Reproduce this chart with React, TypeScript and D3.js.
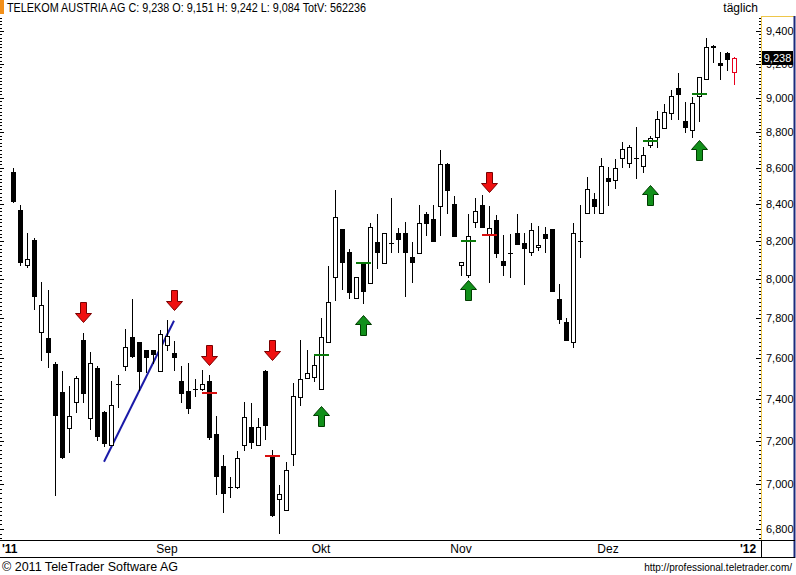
// @ts-nocheck
import React from 'react'
import * as d3 from 'd3'

// daily candles, Aug - Dec 2011 (EUR)
const opens = [
  8.576, 8.367, 8.073, 8.205, 7.73, 7.699, 7.57, 7.433, 7.263, 7.387,
  7.689, 7.309, 7.551, 7.337, 7.181, 7.472, 7.562, 7.704, 7.679, 7.639,
  7.639, 7.537, 7.664, 7.626, 7.487, 7.438, 7.448, 7.449, 7.487, 7.233,
  7.084, 6.99, 6.987, 7.184, 7.268, 7.184, 7.537, 7.127, 6.933, 6.885,
  7.14, 7.408, 7.5, 7.508, 7.446, 7.68, 8.012, 8.265, 8.14, 7.903,
  8.082, 7.978, 8.193, 8.082, 8.191, 8.242, 8.242, 8.117, 8.135, 8.346,
  8.319, 8.39, 8.621, 8.4, 8.073, 8.021, 8.302, 8.394, 8.238, 8.313,
  8.096, 8.138, 8.243, 8.188, 8.143, 8.166, 8.236, 8.265, 7.897, 7.781,
  7.68, 8.202, 8.35, 8.425, 8.35, 8.545, 8.533, 8.653, 8.625, 8.656,
  8.61, 8.728, 8.775, 8.824, 8.912, 9.056, 8.868, 8.814, 9.011, 9.109,
  9.311, 9.205, 9.269, 9.151,
]
const highs = [
  8.599, 8.394, 8.243, 8.216, 7.986, 7.943, 7.582, 7.537, 7.462, 7.51,
  7.724, 7.631, 7.56, 7.34, 7.487, 7.516, 7.745, 7.897, 7.68, 7.64,
  7.64, 7.739, 7.79, 7.684, 7.56, 7.575, 7.497, 7.541, 7.516, 7.318,
  7.135, 7.036, 7.155, 7.387, 7.382, 7.31, 7.54, 7.159, 6.998, 7.104,
  7.477, 7.689, 7.639, 7.614, 7.798, 8.068, 8.477, 8.265, 8.158, 8.012,
  8.085, 8.296, 8.346, 8.243, 8.433, 8.27, 8.304, 8.193, 8.394, 8.358,
  8.394, 8.7, 8.625, 8.444, 8.087, 8.346, 8.433, 8.449, 8.389, 8.34,
  8.233, 8.238, 8.346, 8.243, 8.296, 8.281, 8.274, 8.265, 7.975, 7.798,
  8.296, 8.394, 8.55, 8.46, 8.653, 8.604, 8.649, 8.747, 8.728, 8.831,
  8.715, 8.781, 8.924, 8.965, 9.046, 9.145, 8.978, 9.007, 9.121, 9.356,
  9.315, 9.275, 9.27, 9.242,
]
const lows = [
  8.41, 8.073, 8.062, 7.845, 7.59, 7.556, 6.952, 7.12, 7.151, 7.339,
  7.387, 7.257, 7.205, 7.177, 7.181, 7.363, 7.541, 7.606, 7.443, 7.533,
  7.575, 7.537, 7.639, 7.541, 7.387, 7.333, 7.414, 7.443, 7.21, 6.956,
  6.876, 6.945, 6.985, 7.159, 7.169, 7.18, 7.209, 6.858, 6.782, 6.885,
  7.089, 7.371, 7.5, 7.489, 7.446, 7.68, 7.892, 7.948, 7.9, 7.903,
  7.875, 7.978, 8.056, 8.082, 8.143, 8.143, 7.914, 7.986, 8.135, 8.233,
  8.2, 8.233, 8.35, 8.225, 8.021, 8.012, 8.274, 8.277, 7.986, 8.117,
  8.021, 8.012, 8.182, 7.975, 8.126, 8.152, 8.143, 7.938, 7.776, 7.689,
  7.655, 8.117, 8.35, 8.35, 8.35, 8.394, 8.487, 8.602, 8.606, 8.545,
  8.578, 8.718, 8.715, 8.824, 8.878, 8.878, 8.804, 8.775, 8.868, 9.109,
  9.214, 9.109, 9.165, 9.084,
]
const closes = [
  8.416, 8.09, 8.105, 7.914, 7.867, 7.629, 7.323, 7.127, 7.318, 7.502,
  7.428, 7.575, 7.224, 7.192, 7.371, 7.472, 7.655, 7.611, 7.537, 7.603,
  7.619, 7.718, 7.709, 7.606, 7.43, 7.356, 7.448, 7.471, 7.217, 7.04,
  6.96, 6.99, 7.12, 7.315, 7.197, 7.268, 7.276, 6.863, 6.955, 7.066,
  7.414, 7.497, 7.525, 7.565, 7.705, 7.883, 8.33, 8.09, 7.934, 8.012,
  7.94, 8.274, 8.14, 8.243, 8.191, 8.209, 8.14, 8.087, 8.296, 8.299,
  8.2, 8.621, 8.477, 8.229, 8.087, 8.229, 8.363, 8.277, 8.269, 8.135,
  8.073, 8.138, 8.182, 8.165, 8.259, 8.177, 8.218, 7.94, 7.793, 7.689,
  8.242, 8.202, 8.481, 8.39, 8.61, 8.529, 8.599, 8.705, 8.715, 8.656,
  8.672, 8.769, 8.875, 8.916, 9.011, 9.021, 8.83, 8.969, 9.121, 9.301,
  9.305, 9.193, 9.229, 9.238,
]
const totalVolume = 562236
const title = 'TELEKOM AUSTRIA AG'

const monthLabels = ["'11", 'Sep', 'Okt', 'Nov', 'Dez', "'12"]
const monthIndex = [0, 22, 44, 64, 85, 105]

// signal markers: candle index + price
const sellArrows = [
  { i: 10, p: 7.781 },
  { i: 23, p: 7.84 },
  { i: 28, p: 7.565 },
  { i: 37, p: 7.59 },
  { i: 68, p: 8.466 },
]
const buyArrows = [
  { i: 44, p: 7.366 },
  { i: 50, p: 7.815 },
  { i: 65, p: 7.995 },
  { i: 91, p: 8.505 },
  { i: 98, p: 8.757 },
]
const sellLevels = [
  { i: 28, p: 7.429 },
  { i: 37, p: 7.132 },
  { i: 68, p: 8.235 },
]
const buyLevels = [
  { i: 44, p: 7.616 },
  { i: 50, p: 8.085 },
  { i: 65, p: 8.202 },
  { i: 91, p: 8.754 },
  { i: 98, p: 9.021 },
]
const trendLine = [
  { i: 13, p: 7.104 },
  { i: 23, p: 7.786 },
]

const font = '"Liberation Sans", Arial, sans-serif'
const fmt = (v) => d3.format('.3f')(v).replace('.', ',')

const x = d3.scaleLinear().domain([0, 105]).range([13, 748])
const y = d3.scaleLog().domain([6.8, 9.4]).range([529, 31])

const majorTicks = d3.range(68, 95, 2).map((v) => v / 10)
const minorTicks = d3.range(676, 949, 2).map((v) => v / 100)

const downArrow = 'M0,0 L-8,-9 L-3,-9 L-3,-20 L3,-20 L3,-9 L8,-9 Z'
const upArrow = 'M0,0 L-8,9 L-3,9 L-3,20 L3,20 L3,9 L8,9 Z'

const Candle = ({ i, last }) => {
  const o = opens[i]
  const h = highs[i]
  const l = lows[i]
  const c = closes[i]
  const cx = Math.round(x(i))
  const top = Math.round(y(Math.max(o, c)))
  const bot = Math.round(y(Math.min(o, c)))
  const down = c < o
  const color = last ? '#e8001c' : '#000'
  return (
    <g>
      <line x1={cx + 0.5} x2={cx + 0.5} y1={Math.round(y(h))} y2={Math.round(y(l)) + 1} stroke={color} />
      {bot - top < 1 ? (
        <rect x={cx - 2} y={top} width={5} height={1} fill={color} />
      ) : down ? (
        <rect x={cx - 2} y={top} width={5} height={bot - top + 1} fill={color} />
      ) : (
        <rect x={cx - 1.5} y={top + 0.5} width={4} height={bot - top} fill="#fff" stroke={color} />
      )}
    </g>
  )
}

const App = () => {
  const last = closes.length - 1
  const header = `${title} C: ${fmt(closes[last])} O: ${fmt(opens[last])} H: ${fmt(highs[last])} L: ${fmt(
    lows[last]
  )} TotV: ${totalVolume}`
  const tagY = y(closes[last])

  return (
    <svg width={796} height={575} style={{ position: 'absolute', left: 0, top: 0, background: '#fff' }} fontFamily={font}>
      <rect width={796} height={575} fill="#fff" />
      {/* header */}
      <rect x={0} y={0} width={4} height={14} fill="#f39019" />
      <text x={7} y={12} fontSize={12} fill="#000" textLength={359} lengthAdjust="spacingAndGlyphs">
        {header}
      </text>
      <text x={758} y={12} fontSize={12} textAnchor="end" fill="#000">
        täglich
      </text>

      {/* left edge ticks */}
      {minorTicks.map((t) => (
        <line key={'l' + t} x1={0} x2={2} y1={Math.round(y(t)) + 0.5} y2={Math.round(y(t)) + 0.5} stroke="#000" />
      ))}
      {majorTicks.map((t) => (
        <line key={'L' + t} x1={0} x2={4} y1={Math.round(y(t)) + 0.5} y2={Math.round(y(t)) + 0.5} stroke="#000" />
      ))}

      {/* trend line */}
      <line
        x1={x(trendLine[0].i)}
        y1={y(trendLine[0].p)}
        x2={x(trendLine[1].i)}
        y2={y(trendLine[1].p)}
        stroke="#1a1aa8"
        strokeWidth={2}
      />

      {/* candles */}
      {closes.map((_, i) => (
        <Candle key={i} i={i} last={i === last} />
      ))}

      {/* signal levels */}
      {sellLevels.map((d) => (
        <rect key={'sl' + d.i} x={Math.round(x(d.i)) - 7} y={Math.round(y(d.p)) - 1} width={15} height={2} fill="#d81010" />
      ))}
      {buyLevels.map((d) => (
        <rect key={'bl' + d.i} x={Math.round(x(d.i)) - 7} y={Math.round(y(d.p)) - 1} width={15} height={2} fill="#0a7a0a" />
      ))}

      {/* arrows */}
      {sellArrows.map((d) => (
        <path
          key={'sa' + d.i}
          d={downArrow}
          transform={`translate(${Math.round(x(d.i)) + 0.5}, ${Math.round(y(d.p)) + 0.5})`}
          fill="#f01010"
          stroke="#7a0000"
        />
      ))}
      {buyArrows.map((d) => (
        <path
          key={'ba' + d.i}
          d={upArrow}
          transform={`translate(${Math.round(x(d.i)) + 0.5}, ${Math.round(y(d.p)) + 0.5})`}
          fill="#11901a"
          stroke="#003c00"
        />
      ))}

      {/* right axis */}
      <line x1={761.5} x2={761.5} y1={16} y2={540} stroke="#eec64a" />
      <line x1={761} x2={795} y1={16.5} y2={16.5} stroke="#eec64a" />
      {minorTicks.map((t) => (
        <line key={'r' + t} x1={759} x2={761} y1={Math.round(y(t)) + 0.5} y2={Math.round(y(t)) + 0.5} stroke="#000" />
      ))}
      {majorTicks.map((t) => (
        <g key={'R' + t}>
          <line x1={756} x2={761} y1={Math.round(y(t)) + 0.5} y2={Math.round(y(t)) + 0.5} stroke="#000" />
          <text x={766} y={y(t)} dy="0.35em" fontSize={11} fill="#000">
            {fmt(t)}
          </text>
        </g>
      ))}
      <rect x={762} y={Math.round(tagY) - 7} width={31} height={14} fill="#000" />
      <text x={777.5} y={tagY} dy="0.36em" fontSize={11} textAnchor="middle" fill="#fff">
        {fmt(closes[last])}
      </text>
      <line x1={794.5} x2={794.5} y1={16} y2={558} stroke="#1c2a7c" strokeWidth={2} />

      {/* time axis */}
      <line x1={0} x2={795} y1={540.5} y2={540.5} stroke="#000" />
      <line x1={0} x2={795} y1={557.5} y2={557.5} stroke="#000" />
      <line x1={761.5} x2={761.5} y1={540} y2={558} stroke="#000" />
      {monthLabels.map((m, k) => (
        <text
          key={m}
          x={k === 0 ? 2 : x(monthIndex[k])}
          y={553}
          fontSize={12}
          fontWeight={m.startsWith("'") ? 'bold' : 'normal'}
          textAnchor={k === 0 ? 'start' : 'middle'}
          fill="#000"
        >
          {m}
        </text>
      ))}

      {/* footer */}
      <text x={2} y={571} fontSize={12} fill="#000" textLength={176} lengthAdjust="spacingAndGlyphs">
        © 2011 TeleTrader Software AG
      </text>
      <text x={792} y={571} fontSize={10} textAnchor="end" fill="#000">
        http://professional.teletrader.com/
      </text>
    </svg>
  )
}

export default App
